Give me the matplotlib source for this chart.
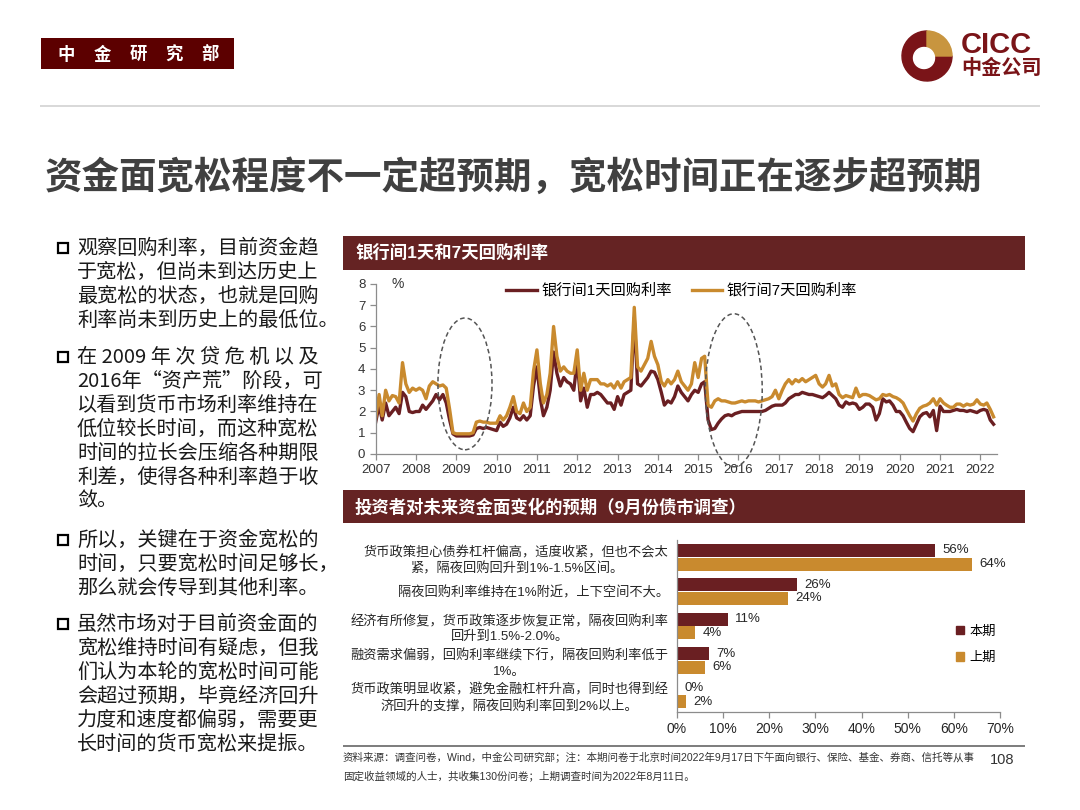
import numpy as np
import pandas as pd
import matplotlib
matplotlib.use("Agg")
import matplotlib.pyplot as plt
import matplotlib.dates as mdates
from matplotlib.patches import Rectangle, Ellipse, Wedge, Circle, Patch

plt.rcParams['font.family'] = ['Liberation Sans', 'Noto Sans CJK SC', 'DejaVu Sans']

# ---- data: monthly repo rates (%), 2007-01 .. 2022-05 ----
r1_by_year = [
    [1.5, 2.3, 1.6, 2.4, 1.8, 2.0, 2.2, 1.9, 2.9, 2.7, 2.0, 1.95],
    [2.0, 2.0, 2.3, 2.1, 2.3, 2.5, 2.8, 2.55, 2.8, 2.4, 1.6, 0.95],
    [0.85, 0.85, 0.85, 0.85, 0.85, 0.9, 1.2, 1.25, 1.2, 1.25, 1.2, 1.15],
    [1.1, 1.5, 1.3, 1.4, 1.7, 2.2, 1.7, 1.6, 1.8, 1.6, 1.8, 3.2],
    [4.1, 2.6, 1.8, 2.2, 3.0, 4.8, 3.8, 3.2, 3.6, 3.4, 3.3, 3.0],
    [4.4, 2.5, 3.1, 2.2, 2.8, 2.8, 2.9, 2.8, 2.6, 2.4, 2.4, 2.1],
    [2.7, 2.3, 2.8, 2.9, 3.0, 6.4, 3.3, 3.2, 3.4, 3.6, 3.9, 3.85],
    [3.5, 2.9, 2.3, 2.5, 2.4, 2.7, 3.2, 2.9, 2.7, 2.5, 2.8, 3.0],
    [2.9, 3.3, 3.4, 1.6, 1.15, 1.2, 1.45, 1.65, 1.8, 1.85, 1.8, 1.9],
    [1.95, 2.0, 2.0, 2.0, 2.0, 2.0, 2.0, 2.0, 2.05, 2.15, 2.25, 2.3],
    [2.3, 2.3, 2.4, 2.6, 2.7, 2.8, 2.8, 2.9, 2.85, 2.8, 2.8, 2.75],
    [2.7, 2.65, 2.75, 2.9, 2.75, 2.6, 2.3, 2.2, 2.45, 2.35, 2.4, 2.35],
    [2.1, 2.2, 2.35, 2.35, 2.2, 1.6, 1.9, 2.6, 2.45, 2.5, 2.3, 2.0],
    [2.0, 1.8, 1.5, 1.2, 1.05, 1.4, 1.75, 1.9, 1.95, 1.75, 2.05, 1.1],
    [2.25, 2.0, 2.0, 2.0, 2.05, 2.1, 2.05, 2.05, 2.0, 2.05, 2.0, 1.95],
    [2.05, 2.1, 2.05, 1.6, 1.4],
]
r7_by_year = [
    [1.7, 2.8, 1.8, 3.0, 2.5, 2.75, 2.7, 2.4, 4.3, 3.3, 2.9, 3.1],
    [3.0, 3.1, 3.0, 2.6, 3.2, 3.4, 3.3, 3.2, 3.25, 3.1, 2.1, 1.0],
    [0.95, 0.95, 0.95, 0.95, 0.95, 1.0, 1.5, 1.55, 1.5, 1.5, 1.45, 1.45],
    [1.45, 1.8, 1.6, 1.8, 2.2, 2.7, 2.0, 1.9, 2.4, 2.0, 2.2, 3.9],
    [4.9, 3.3, 2.4, 2.8, 3.8, 6.0, 4.6, 3.9, 4.1, 3.9, 3.8, 3.8],
    [4.9, 3.0, 3.8, 3.0, 3.5, 3.5, 3.5, 3.3, 3.3, 3.2, 3.3, 3.1],
    [3.4, 3.1, 3.4, 3.5, 3.6, 6.9, 4.1, 3.9, 4.2, 4.5, 5.3, 4.6],
    [4.2, 3.4, 3.2, 3.5, 3.3, 3.5, 3.9, 3.4, 3.2, 3.0, 3.3, 4.3],
    [3.6, 4.5, 4.6, 2.3, 2.2, 2.5, 2.6, 2.5, 2.5, 2.45, 2.4, 2.4],
    [2.45, 2.5, 2.45, 2.5, 2.5, 2.5, 2.45, 2.5, 2.55, 2.6, 2.7, 3.0],
    [2.6, 3.0, 3.3, 3.5, 3.3, 3.5, 3.4, 3.55, 3.4, 3.5, 3.6, 3.7],
    [3.3, 3.15, 3.3, 3.7, 3.2, 3.3, 2.8, 2.65, 2.75, 2.7, 2.65, 3.1],
    [2.7, 2.8, 2.8, 2.75, 2.65, 2.55, 2.6, 2.8, 2.75, 2.8, 2.7, 2.65],
    [2.55, 2.4, 2.1, 1.8, 1.55, 1.9, 2.15, 2.25, 2.3, 2.4, 2.6, 2.3],
    [2.6, 2.4, 2.3, 2.2, 2.2, 2.35, 2.35, 2.25, 2.35, 2.3, 2.35, 2.55],
    [2.35, 2.3, 2.4, 2.1, 1.75],
]
repo_1d = [v for yr in r1_by_year for v in yr]
repo_7d = [v for yr in r7_by_year for v in yr]
months = pd.date_range("2007-01-01", periods=len(repo_1d), freq="MS")
year_ticks = pd.date_range("2007-01-01", "2022-01-01", freq="YS")

# ---- data: survey ----
survey_cats = [
    "货币政策担心债券杠杆偏高，适度收紧，但也不会太\n紧，隔夜回购回升到1%-1.5%区间。",
    "隔夜回购利率维持在1%附近，上下空间不大。",
    "经济有所修复，货币政策逐步恢复正常，隔夜回购利率\n回升到1.5%-2.0%。",
    "融资需求偏弱，回购利率继续下行，隔夜回购利率低于\n1%。",
    "货币政策明显收紧，避免金融杠杆升高，同时也得到经\n济回升的支撑，隔夜回购利率回到2%以上。",
]
survey_now = [56, 26, 11, 7, 0]
survey_prev = [64, 24, 4, 6, 2]
survey_ticks = [0, 10, 20, 30, 40, 50, 60, 70]

paragraphs = [
    ["观察回购利率，目前资金趋", "于宽松，但尚未到达历史上", "最宽松的状态，也就是回购",
     "利率尚未到历史上的最低位。"],
    ["在 2009 年 次 贷 危 机 以 及", "2016年“资产荒”阶段，可", "以看到货币市场利率维持在",
     "低位较长时间，而这种宽松", "时间的拉长会压缩各种期限", "利差，使得各种利率趋于收", "敛。"],
    ["所以，关键在于资金宽松的", "时间，只要宽松时间足够长，", "那么就会传导到其他利率。"],
    ["虽然市场对于目前资金面的", "宽松维持时间有疑虑，但我", "们认为本轮的宽松时间可能",
     "会超过预期，毕竟经济回升", "力度和速度都偏弱，需要更", "长时间的货币宽松来提振。"],
]
para_top = [248, 357, 540, 624]

DARK = "#6a1f22"
GOLD = "#c98a2e"
HEAD = "#652323"
W, H = 1080, 810


def fx(x):
    return x / W


def fy(y):
    return 1 - y / H


def box(x0, y0, x1, y1, **kw):
    fig.add_artist(Rectangle((fx(x0), fy(y1)), fx(x1) - fx(x0), fy(y0) - fy(y1),
                             transform=fig.transFigure, **kw))


fig = plt.figure(figsize=(10.8, 8.1), dpi=100)

# header tag
box(41, 38, 234, 69, facecolor="#5c0000", edgecolor="none")
for i, ch in enumerate("中金研究部"):
    fig.text(fx(66 + 36 * i), fy(54), ch, color="white", fontsize=12.5,
             weight="bold", ha="center", va="center")

# logo
lax = fig.add_axes([fx(897), fy(86), 60 / W, 60 / H])
lax.set_xlim(-30, 30)
lax.set_ylim(-30, 30)
lax.set_aspect("equal")
lax.axis("off")
lax.add_patch(Wedge((0, 0), 25, 90, 360, color="#7a1418"))
lax.add_patch(Wedge((0, 0), 25, 0, 90, color="#c8953f"))
lax.add_patch(Circle((-3, -2), 10.5, color="white"))
fig.text(fx(961), fy(59), "CICC", color="#7a1418", fontsize=21, weight="bold",
         va="bottom", ha="left")
fig.text(fx(961), fy(57), "中金公司", color="#7a1418", fontsize=14.5, weight="bold",
         va="top", ha="left", family=["Noto Sans CJK SC"])

# separator + title
box(40, 105, 1040, 107, facecolor="#d9d9d9", edgecolor="none")
fig.text(fx(45), fy(178), "资金面宽松程度不一定超预期，宽松时间正在逐步超预期",
         fontsize=27, weight="bold", color="#404040", va="center", ha="left")

# left bullets
for top, lines in zip(para_top, paragraphs):
    box(58, top - 5, 68, top + 5, facecolor="none", edgecolor="black", linewidth=1.6)
    for k, line in enumerate(lines):
        fig.text(fx(77), fy(top + 24 * k), line, fontsize=14.5, color="#1a1a1a",
                 va="center", ha="left", family=["Noto Sans CJK SC", "DejaVu Sans"])

# section headers
box(343, 236, 1025, 270, facecolor=HEAD, edgecolor="none")
fig.text(fx(355), fy(253), "银行间1天和7天回购利率", color="white", fontsize=12.5,
         weight="bold", va="center")
box(343, 490, 1025, 523, facecolor=HEAD, edgecolor="none")
fig.text(fx(355), fy(507), "投资者对未来资金面变化的预期（9月份债市调查）", color="white",
         fontsize=12.5, weight="bold", va="center")

# ---- line chart ----
ax = fig.add_axes([fx(375.7), fy(454), (997 - 375.7) / W, (454 - 284) / H])
ax.plot(months, repo_1d, color=DARK, lw=2.4, label="银行间1天回购利率")
ax.plot(months, repo_7d, color=GOLD, lw=2.4, label="银行间7天回购利率")
ax.set_ylim(0, 8)
ax.set_xlim(pd.Timestamp("2007-01-01"), pd.Timestamp("2022-06-01"))
ax.set_yticks(range(9))
ax.set_xticks(year_ticks)
ax.xaxis.set_major_formatter(mdates.DateFormatter("%Y"))
for s in ["top", "right"]:
    ax.spines[s].set_visible(False)
for s in ["left", "bottom"]:
    ax.spines[s].set_color("#8c8c8c")
    ax.spines[s].set_linewidth(0.9)
ax.tick_params(colors="#8c8c8c", labelcolor="#333333", labelsize=9.5, length=4, width=0.9)
ax.text(0.025, 1.0, "%", transform=ax.transAxes, fontsize=10, color="#333333",
        va="center", ha="left")
ax.legend(loc="center left", bbox_to_anchor=(0.21, 0.96), ncol=2, frameon=False,
          fontsize=11, handlelength=2.0, handletextpad=0.3, columnspacing=1.3,
          borderpad=0, borderaxespad=0)
for cx, cy, wd, ht in [("2009-03-20", 3.3, 490, 6.2), ("2015-11-20", 3.0, 515, 7.2)]:
    ax.add_patch(Ellipse((mdates.date2num(pd.Timestamp(cx)), cy), wd, ht, fill=False,
                         edgecolor="#555555", linestyle=(0, (3, 2)), lw=1.1,
                         clip_on=False, zorder=5))

# ---- bar chart ----
bx = fig.add_axes([fx(677), fy(712), (1000 - 677) / W, 172 / H])
ypos = np.arange(len(survey_cats))
bx.barh(ypos - 0.2, survey_now, height=0.38, color=DARK, label="本期")
bx.barh(ypos + 0.2, survey_prev, height=0.38, color=GOLD, label="上期")
for yy, a, b in zip(ypos, survey_now, survey_prev):
    bx.text(a + 1.6, yy - 0.2, f"{a}%", va="center", ha="left", fontsize=9.5, color="#262626")
    bx.text(b + 1.6, yy + 0.2, f"{b}%", va="center", ha="left", fontsize=9.5, color="#262626")
bx.set_ylim(len(survey_cats) - 0.5, -0.5)
bx.set_xlim(0, 70)
bx.set_xticks(survey_ticks)
bx.set_xticklabels([f"{t}%" for t in survey_ticks])
bx.set_yticks(ypos)
bx.set_yticklabels(survey_cats, fontsize=9.5, color="#262626", linespacing=1.35)
for t in bx.get_yticklabels():
    t.set_multialignment("center")
for s in ["top", "right"]:
    bx.spines[s].set_visible(False)
for s in ["left", "bottom"]:
    bx.spines[s].set_color("#8c8c8c")
    bx.spines[s].set_linewidth(0.9)
bx.tick_params(axis="y", length=0, pad=6)
bx.tick_params(axis="x", colors="#8c8c8c", labelcolor="#262626", labelsize=10,
               length=4, width=0.9)
bx.legend(handles=[Patch(color=DARK, label="本期"), Patch(color=GOLD, label="上期")],
          loc="center left", bbox_to_anchor=(0.865, 0.39), frameon=False, fontsize=9.5,
          handlelength=0.6, handleheight=0.6, handletextpad=0.4, labelspacing=1.1,
          borderpad=0, borderaxespad=0)

# footnote
box(343, 745, 1025, 747, facecolor="#7f7f7f", edgecolor="none")
fig.text(fx(343), fy(758), "资料来源：调查问卷，Wind，中金公司研究部；注：本期问卷于北京时间2022年9月17日下午面向银行、保险、基金、券商、信托等从事",
         fontsize=7.6, color="#333333", va="center")
fig.text(fx(343), fy(776), "固定收益领域的人士，共收集130份问卷；上期调查时间为2022年8月11日。",
         fontsize=7.6, color="#333333", va="center")
fig.text(fx(990), fy(760), "108", fontsize=10.5, color="#333333", va="center")

fig.savefig("out.png", dpi=100)
